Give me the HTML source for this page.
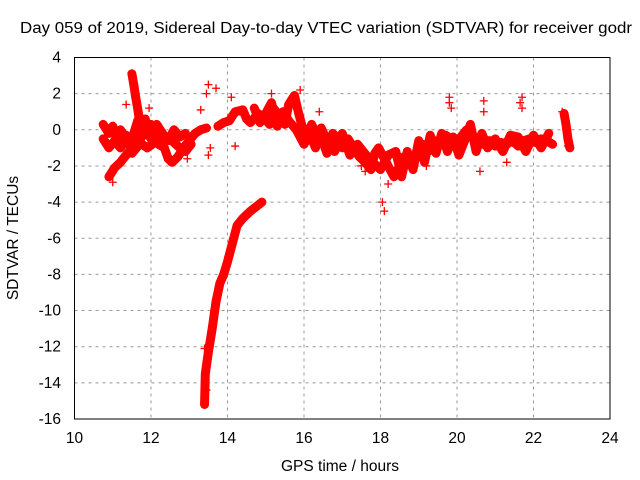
<!DOCTYPE html>
<html><head><meta charset="utf-8"><style>
html,body{margin:0;padding:0;background:#fff;}
svg{display:block;font-family:"Liberation Sans",sans-serif;}
</style></head><body>
<svg id="chart" width="640" height="480">
<text x="326" y="33" text-anchor="middle" font-size="15.5" textLength="612" lengthAdjust="spacingAndGlyphs">Day 059 of 2019, Sidereal Day-to-day VTEC variation (SDTVAR) for receiver godr</text>
<text x="340" y="471" text-anchor="middle" font-size="15.5">GPS time / hours</text>
<text transform="translate(18,238) rotate(-90)" text-anchor="middle" font-size="15.5">SDTVAR / TECUs</text>
<g id="grid"></g><g id="ticks"></g><g id="series"></g>
<rect x="74.5" y="57.5" width="535.5" height="361.5" fill="none" stroke="#000"/>
</svg>
<script>
const xTicks=[10,12,14,16,18,20,22,24];
const yTicks=[-16,-14,-12,-10,-8,-6,-4,-2,0,2,4];
const trackMain=[[10.75,0.3],[10.9,-0.2],[11.0,0.2],[11.1,-0.5],[11.2,0],[11.3,-0.3],[11.45,-0.8],[11.55,-0.2],[11.65,0.5],[11.75,0.2],[11.9,-0.3],[12.0,0.3],[12.1,-0.2],[12.2,-0.8],[12.35,-1.0],[12.45,-1.6],[12.55,-1.8],[12.7,-1.5],[12.85,-1.0],[13.0,-0.6],[13.15,-0.2],[13.3,0],[13.45,0.1]];
const trackMain2=[[10.75,-0.5],[10.9,-1.0],[11.05,-0.6],[11.2,-1.0],[11.35,-0.3],[11.5,-1.3],[11.7,-0.8],[11.85,0.6],[12.0,-0.5],[12.15,0.3],[12.3,-0.2],[12.45,-0.6],[12.6,0.0],[12.75,-0.4],[12.9,-0.2]];
const trackMid=[[13.75,0.2],[13.9,0.4],[14.05,0.5],[14.2,1.0],[14.4,1.1],[14.5,0.6],[14.6,0.4],[14.8,0.9],[14.95,0.7],[15.1,0.3],[15.2,1.2],[15.35,0.8],[15.5,0.3],[15.6,1.4],[15.75,1.9],[15.85,1.0],[15.95,0.2],[16.1,-0.3],[16.2,0.3],[16.35,-0.4],[16.5,-0.7],[16.6,-1.3],[16.75,-0.2],[16.9,-0.5],[17.0,-1.0],[17.15,-0.5],[17.3,-1.0],[17.45,-1.5],[17.6,-1.8],[17.75,-2.2],[17.85,-1.3],[17.95,-1.0],[18.1,-1.6],[18.2,-2.0],[18.35,-2.6],[18.5,-2.0],[18.6,-1.5],[18.75,-1.8],[18.9,-1.5],[19.0,-1.3],[19.1,-0.8],[19.25,-1.2],[19.4,-0.6],[19.55,-0.8],[19.7,-0.3],[19.85,-0.5],[20.0,-0.8],[20.1,-0.4],[20.25,0.0],[20.4,-0.3],[20.55,-0.6],[20.7,-0.8],[20.85,-0.6],[21.0,-0.9],[21.15,-0.7],[21.3,-0.8],[21.45,-0.6],[21.6,-0.9],[21.75,-0.6],[21.9,-0.5],[22.05,-0.7],[22.2,-0.5],[22.35,-0.6],[22.5,-0.8]];
const trackMid2=[[14.7,1.2],[14.85,0.4],[15.0,0.9],[15.15,1.5],[15.3,0.2],[15.45,1.0],[15.6,0.5],[15.8,0.0],[16.0,-0.8],[16.15,-0.2],[16.3,-1.0],[16.45,0.1],[16.6,-0.6],[16.8,-1.2],[17.0,-0.2],[17.2,-1.4],[17.4,-0.8],[17.55,-1.2],[17.7,-1.6],[18.0,-2.2],[18.2,-1.4],[18.4,-1.2],[18.55,-2.6],[18.7,-1.2],[18.85,-2.2],[19.0,-0.6],[19.15,-1.8],[19.3,-0.3],[19.45,-1.3],[19.6,-0.2],[19.75,-1.2],[19.9,-0.4],[20.05,-1.4],[20.2,-0.6],[20.35,0.3],[20.5,-1.2],[20.65,-0.2],[20.8,-1.0],[21.0,-0.5],[21.2,-1.2],[21.4,-0.3],[21.6,-0.4],[21.8,-1.2],[22.0,-0.3],[22.2,-1.0],[22.4,-0.2]];
const trackLow=[[10.9,-2.6],[11.05,-2.1],[11.2,-1.8],[11.35,-1.4],[11.5,-1.0],[11.7,-0.7],[11.9,-1.0],[12.1,-0.7],[12.3,-0.4],[12.5,-0.5],[12.7,-0.9],[12.9,-1.2],[13.05,-0.8]];
const trackSpike=[[11.5,3.1],[11.55,2.5],[11.6,1.8],[11.65,1.2],[11.7,0.5]];
const trackCurve=[[13.4,-15.2],[13.42,-13.5],[13.5,-12.3],[13.6,-11],[13.7,-9.5],[13.8,-8.5],[13.9,-8],[14.0,-7.3],[14.1,-6.5],[14.25,-5.3],[14.4,-4.9],[14.6,-4.5],[14.9,-4.0]];
const trackEnd=[[22.8,0.9],[22.85,0.3],[22.9,-0.5],[22.95,-1.0]];
const extraPts=[[13.45,2.0],[13.5,2.5],[13.7,2.3],[13.5,-1.4],[13.55,-1.0],[14.2,-0.9],[15.15,2.0],[18.05,-4.0],[18.1,-4.5],[19.8,1.8],[19.85,1.2],[20.7,1.6],[20.7,1.0],[21.7,1.8],[21.7,1.2],[11.35,1.4],[11.95,1.2],[13.3,1.1],[16.4,1.0],[17.6,-2.3],[19.2,-2.0],[20.6,-2.3],[21.3,-1.8],[11.0,-2.9],[13.4,-12.1],[13.45,-14.4],[12.95,-1.6],[14.1,1.8],[15.9,2.2],[17.5,-2.0],[18.2,-3.0],[22.75,1.0],[22.9,-0.9],[21.65,1.5],[19.8,1.5]];
const tracks=[trackMain,trackMain2,trackMid,trackMid2,trackLow,trackSpike,trackCurve,trackEnd];
const X=t=>74.5+(t-10)*38.25, Y=v=>57.5+(4-v)*18.075;
const NS='http://www.w3.org/2000/svg';
function mk(tag,attrs,parent){const e=document.createElementNS(NS,tag);for(const k in attrs)e.setAttribute(k,attrs[k]);parent.appendChild(e);return e;}
const grid=document.getElementById('grid'),ticks=document.getElementById('ticks'),ser=document.getElementById('series');
xTicks.forEach(t=>{
  if(t>10&&t<24){const g=mk('line',{x1:X(t),x2:X(t),y1:57.5,y2:419,stroke:'#999','stroke-dasharray':'3,4'},grid);
  
  }
  const l=mk('text',{x:X(t),y:443,'text-anchor':'middle','font-size':'15.5'},ticks);l.textContent=t;
  
  
});
yTicks.forEach(v=>{
  if(v>-16&&v<4){const g=mk('line',{x1:74.5,x2:610,y1:Y(v),y2:Y(v),stroke:'#999','stroke-dasharray':'3,4'},grid);
  
  }
  const l=mk('text',{x:61,y:Y(v)+5,'text-anchor':'end','font-size':'15.5'},ticks);l.textContent=v;
  
  
});
function plus(t,v){const p=mk('path',{d:`M${X(t)-4},${Y(v)}h8M${X(t)},${Y(v)-4}v8`,stroke:'#f00','stroke-width':1.3},ser);
  
  }
tracks.forEach(tr=>{
  const d=tr.map((p,i)=>(i?'L':'M')+X(p[0])+','+Y(p[1])).join('');
  const band=mk('path',{d:d,fill:'none',stroke:'#f00','stroke-width':9,'stroke-linejoin':'round','stroke-linecap':'round'},ser);
  
  
  tr.forEach(p=>plus(p[0],p[1]));
});
extraPts.forEach(p=>plus(p[0],p[1]));
</script>
</body></html>
